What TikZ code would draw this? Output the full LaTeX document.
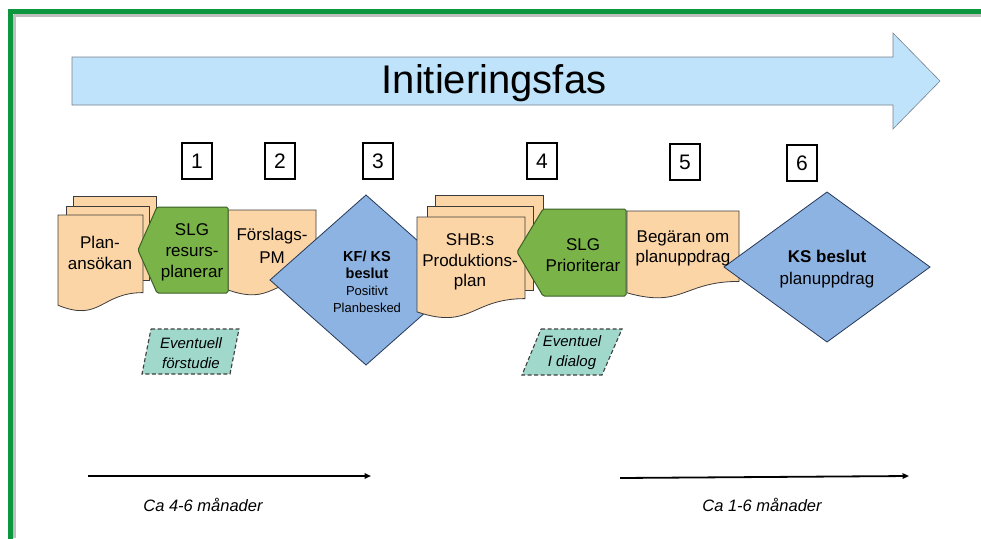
\documentclass[tikz,border=0pt]{standalone}
\usepackage{fontspec}
\setmainfont{Liberation Sans}
\usetikzlibrary{arrows.meta}

\definecolor{framegreen}{RGB}{12,150,62}
\definecolor{phasefill}{RGB}{190,227,250}
\definecolor{phaseline}{RGB}{120,130,140}
\definecolor{docfill}{RGB}{252,213,166}
\definecolor{docline}{RGB}{60,60,60}
\definecolor{slgfill}{RGB}{122,179,72}
\definecolor{slgline}{RGB}{58,96,38}
\definecolor{decfill}{RGB}{141,179,226}
\definecolor{decline}{RGB}{38,56,88}
\definecolor{optfill}{RGB}{160,216,204}

% document sheet with a wavy lower edge: left, top, right, height
\newcommand\wavedoc[4]{(#1,#2) -- (#3,#2) -- (#3,{#2+0.8*#4})
  .. controls ({(#1+#3)/2},{#2+0.8*#4}) and ({(#1+#3)/2},{#2+1.11*#4}) .. (#1,{#2+0.93*#4}) -- cycle}

\tikzset{
  sheet/.style={fill=docfill, draw=docline, line width=0.8pt},
  slg/.style={fill=slgfill, draw=slgline, line width=1pt, rounded corners=1.5pt},
  decision/.style={fill=decfill, draw=decline, line width=0.8pt},
  optional/.style={fill=optfill, draw=black!75, line width=1.1pt, dash pattern=on 4pt off 2.5pt},
  numbox/.style={draw=black, line width=1.8pt, minimum width=30pt, minimum height=36pt,
    inner sep=0pt, font=\fontsize{21}{24}\selectfont},
  label17/.style={align=center, inner sep=0pt, font=\fontsize{17}{21}\selectfont},
  note/.style={align=center, inner sep=0pt, font=\fontsize{15}{20}\selectfont\itshape},
  span/.style={line width=1.8pt, -{Triangle[length=6.5pt,width=5.5pt]}},
  spantext/.style={inner sep=0pt, font=\fontsize{16.5}{19}\selectfont\itshape}
}

\begin{document}
\begin{tikzpicture}[x=1pt,y=-1pt]
\useasboundingbox (0,0) rectangle (981,538);
\fill[white] (0,0) rectangle (981,538);

% frame along the top and left edge
\draw[black!25, line width=4pt] (13.5,14.5) -- (981,14.5);
\draw[black!25, line width=4pt] (13.5,14.5) -- (13.5,538);
\draw[framegreen, line width=5.5pt, line cap=rect] (981,11.5) -- (10.5,11.5) -- (10.5,538);

% phase arrow
\filldraw[fill=phasefill, draw=phaseline, line width=0.6pt]
  (72,57) -- (893,57) -- (893,33) -- (940,81) -- (893,129) -- (893,105) -- (72,105) -- cycle;
\node[inner sep=0pt, font=\fontsize{40}{44}\selectfont] (phase) at (494,83) {Initieringsfas};

% step numbers
\node[numbox] (n1) at (197,161) {1};
\node[numbox] (n2) at (280,161) {2};
\node[numbox] (n3) at (378,161) {3};
\node[numbox] (n4) at (542,161) {4};
\node[numbox] (n5) at (685,162) {5};
\node[numbox] (n6) at (802,163) {6};

% step 1: Planansökan (stack of sheets)
\filldraw[sheet] (73,196) rectangle (156,270);
\filldraw[sheet] (66,206) rectangle (149,280);
\filldraw[sheet] \wavedoc{58}{215}{143}{97};

% step 2: Förslags-PM
\filldraw[sheet] \wavedoc{228}{210}{316}{86};

% SLG resursplanerar
\filldraw[slg] (138,250) -- (157,207) -- (228,207) -- (228,293) -- (157,293) -- cycle;

% step 3: decision
\filldraw[decision] (366,195) -- (462,280) -- (366,365) -- (270,280) -- cycle;

% step 4: SHB:s produktionsplan (stack of sheets)
\filldraw[sheet] (435,195) rectangle (543,280);
\filldraw[sheet] (427,206) rectangle (533,290);
\filldraw[sheet] \wavedoc{417}{217}{525}{102};

% SLG prioriterar
\filldraw[slg] (517,252) -- (543,209) -- (626,209) -- (626,296) -- (543,296) -- cycle;

% step 5: Begäran om planuppdrag
\filldraw[sheet] \wavedoc{627}{211}{739}{88};

% step 6: decision
\filldraw[decision] (827,192) -- (930,267) -- (827,342) -- (724,267) -- cycle;

% optional activities
\filldraw[optional] (151,329) -- (239,329) -- (230,374) -- (142,374) -- cycle;
\filldraw[optional] (541,329) -- (622,329) -- (602,375) -- (522,375) -- cycle;

% texts
\node[label17] (plan) at (100,253) {Plan-\\ansökan};
\node[label17] (slg1) at (192,252) {SLG\\resurs-\\planerar};
\node[label17, font=\fontsize{17}{23}\selectfont] (pm) at (272,246) {Förslags-\\PM};
\node[align=center, inner sep=0pt, font=\fontsize{13}{17}\selectfont] (ks1) at (367,282)
  {\textbf{\fontsize{14.5}{17}\selectfont KF/ KS}\\\textbf{\fontsize{14.5}{17}\selectfont beslut}\\Positivt\\Planbesked};
\node[label17, font=\fontsize{17}{20.5}\selectfont] (shb) at (470,262) {SHB:s\\Produktions-\\plan};
\node[label17] (slg2) at (583,255) {SLG\\Prioriterar};
\node[label17, font=\fontsize{17}{20}\selectfont] (beg) at (683,248) {Begäran om\\planuppdrag};
\node[label17, font=\fontsize{17}{22}\selectfont] (ks2) at (827,269) {\textbf{KS beslut}\\planuppdrag};
\node[note] (opt1) at (191,353) {Eventuell\\förstudie};
\node[note] (opt2) at (572,353) {Eventuel\\I dialog};

% durations
\coordinate (d1a) at (88,476);
\coordinate (d1b) at (371,476);
\coordinate (d2a) at (620,478);
\coordinate (d2b) at (909,476);
\draw[span] (d1a) -- (d1b);
\draw[span] (d2a) -- (d2b);
\node[spantext] (t1) at (203,505) {Ca 4-6 månader};
\node[spantext] (t2) at (762,505) {Ca 1-6 månader};
\end{tikzpicture}
\end{document}
